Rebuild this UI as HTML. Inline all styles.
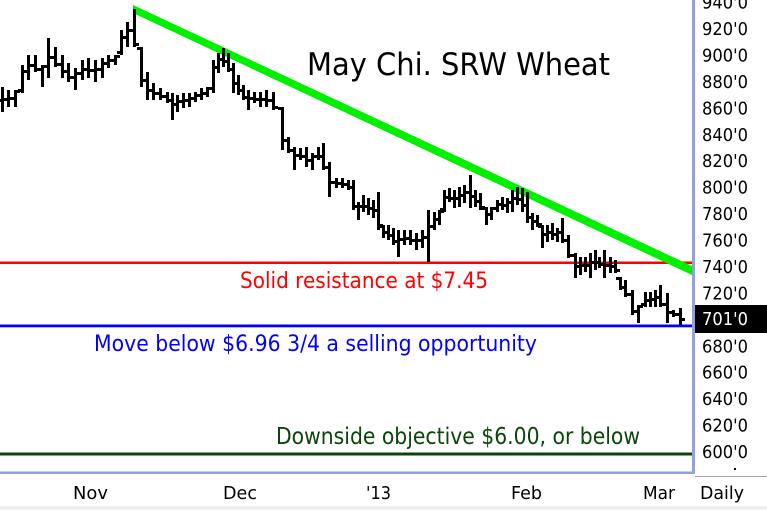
<!DOCTYPE html>
<html><head><meta charset="utf-8"><style>
html,body{margin:0;padding:0;background:#fff;}
svg{display:block;}
text{font-family:"DejaVu Sans","Liberation Sans",sans-serif;}
</style></head><body>
<svg id="c" width="767" height="510" viewBox="0 0 767 510" xmlns="http://www.w3.org/2000/svg">
<rect x="0" y="0" width="767" height="510" fill="#fff"/>
<rect x="0" y="506" width="767" height="4" fill="#efefef"/>
<!-- horizontal lines -->
<rect x="0" y="261.5" width="692" height="2.5" fill="#ff0000"/>
<rect x="0" y="324.5" width="692" height="2.8" fill="#0000ff"/>
<rect x="0" y="452.5" width="692" height="3" fill="#0b450b"/>
<!-- green trend line -->
<polygon points="133,5 692,266 692,275 133,13" fill="#00f000"/>
<g id="bars" fill="#000"></g>
<!-- axes -->
<rect x="692" y="0" width="3" height="474" fill="#8fa2dd"/>
<rect x="0" y="471.5" width="695" height="2.5" fill="#8fa2dd"/>
<rect x="695" y="476" width="72" height="1" fill="#a8a8a8"/>
<!-- texts -->
<text x="307" y="75" font-size="31" fill="#000" textLength="303" lengthAdjust="spacingAndGlyphs">May Chi. SRW Wheat</text>
<text x="240" y="288" font-size="22" fill="#ff0000" textLength="248" lengthAdjust="spacingAndGlyphs">Solid resistance at $7.45</text>
<text x="94" y="351" font-size="22" fill="#0000ff" textLength="443" lengthAdjust="spacingAndGlyphs">Move below $6.96 3/4 a selling opportunity</text>
<text x="276" y="444" font-size="23" fill="#0b450b" textLength="364" lengthAdjust="spacingAndGlyphs">Downside objective $6.00, or below</text>
<!-- y labels -->
<g font-size="18" fill="#000">
<text x="702" y="8.6" textLength="46" lengthAdjust="spacingAndGlyphs">940'0</text>
<text x="702" y="35" textLength="46" lengthAdjust="spacingAndGlyphs">920'0</text>
<text x="702" y="61.4" textLength="46" lengthAdjust="spacingAndGlyphs">900'0</text>
<text x="702" y="87.9" textLength="46" lengthAdjust="spacingAndGlyphs">880'0</text>
<text x="702" y="114.3" textLength="46" lengthAdjust="spacingAndGlyphs">860'0</text>
<text x="702" y="140.8" textLength="46" lengthAdjust="spacingAndGlyphs">840'0</text>
<text x="702" y="167.2" textLength="46" lengthAdjust="spacingAndGlyphs">820'0</text>
<text x="702" y="193.7" textLength="46" lengthAdjust="spacingAndGlyphs">800'0</text>
<text x="702" y="220.1" textLength="46" lengthAdjust="spacingAndGlyphs">780'0</text>
<text x="702" y="246.5" textLength="46" lengthAdjust="spacingAndGlyphs">760'0</text>
<text x="702" y="273" textLength="46" lengthAdjust="spacingAndGlyphs">740'0</text>
<text x="702" y="299.4" textLength="46" lengthAdjust="spacingAndGlyphs">720'0</text>
<text x="702" y="352.3" textLength="46" lengthAdjust="spacingAndGlyphs">680'0</text>
<text x="702" y="378.7" textLength="46" lengthAdjust="spacingAndGlyphs">660'0</text>
<text x="702" y="405.2" textLength="46" lengthAdjust="spacingAndGlyphs">640'0</text>
<text x="702" y="431.6" textLength="46" lengthAdjust="spacingAndGlyphs">620'0</text>
<text x="702" y="458" textLength="46" lengthAdjust="spacingAndGlyphs">600'0</text>
</g>
<rect x="734" y="468" width="2" height="2" fill="#000"/>
<rect x="695" y="305" width="72" height="28" fill="#000"/>
<text x="702" y="325" font-size="18" fill="#fff" textLength="46" lengthAdjust="spacingAndGlyphs">701'0</text>
<!-- x labels -->
<g font-size="18" fill="#000">
<text x="73" y="499" textLength="35" lengthAdjust="spacingAndGlyphs">Nov</text>
<text x="223" y="499" textLength="34" lengthAdjust="spacingAndGlyphs">Dec</text>
<text x="366" y="499" textLength="25" lengthAdjust="spacingAndGlyphs">'13</text>
<text x="511" y="499" textLength="31" lengthAdjust="spacingAndGlyphs">Feb</text>
<text x="643" y="499" textLength="32" lengthAdjust="spacingAndGlyphs">Mar</text>
<text x="700" y="499" textLength="44" lengthAdjust="spacingAndGlyphs">Daily</text>
</g>
</svg>
<script>
(function(){
var d=[[2,87,112],[8,90,107],[15,90,107],[22,65,93],[28,55,80],[35,55,72],[42,65,87],[48,38,78],[55,47,67],[62,55,78],[68,63,82],[75,68,90],[82,60,80],[88,58,78],[95,60,82],[102,58,78],[108,55,68],[115,55,65],[121,30,55],[127,22,47],[134,9,47],
[141,47,87],[147,72,100],[153,83,100],[160,88,100],[167,92,103],[172,93,120],[177,95,112],[183,93,108],[189,93,107],[195,92,102],[201,88,100],[207,87,97],[213,60,93],[218,53,73],[223,48,67],[228,53,72],[233,63,93],[238,75,95],[243,85,100],[248,90,110],[254,92,103],[260,92,107],[266,90,107],[273,92,110],
[282,107,150],[288,137,153],[294,147,170],[300,148,160],[306,147,167],[312,153,170],[318,147,160],[323,143,170],[329,162,197],[336,178,188],[342,178,188],[348,180,190],[353,180,210],[358,202,220],[363,195,212],[368,198,215],[373,200,218],[378,192,230],[383,225,238],[388,225,240],[393,228,245],[398,230,257],[404,230,245],[410,230,245],[416,233,250],[422,230,248],[428,210,262],[434,212,230],[439,210,225],[444,190,212],[449,188,202],[454,190,208],[459,187,207],[464,185,203],[470,175,208],[475,190,207],[480,193,210],[486,207,225],[491,207,220],
[497,200,212],[502,197,210],[507,198,213],[512,190,212],[517,187,205],[522,188,212],[527,192,223],[532,213,230],[537,215,227],[542,225,248],[547,225,242],[552,223,240],[557,228,242],[562,218,243],[568,235,258],[575,253,278],[580,257,275],[585,257,272],[590,253,278],[595,250,270],[599,257,268],[604,250,278],[610,257,273],[615,260,273],[620,277,290],[625,280,297],[632,290,315],[638,305,323],[645,292,307],[650,292,307],[655,290,307],[660,285,307],[667,293,323],[673,310,317],[680,308,325]];
var g=document.getElementById('bars');var ns='http://www.w3.org/2000/svg';
function r(x,y,w,h){var e=document.createElementNS(ns,'rect');e.setAttribute('x',x);e.setAttribute('y',y);e.setAttribute('width',w);e.setAttribute('height',h);g.appendChild(e);}
function cl(v,a,b){return Math.max(a+1,Math.min(b-3,v));}
var prev=null;
for(var i=0;i<d.length;i++){
 var b=d[i],x=b[0],t=b[1],bt=b[2];
 var mid=(t+bt)/2;
 var o=prev===null?mid:cl(prev,t,bt);
 var nx=i+1<d.length?(d[i+1][1]+d[i+1][2])/2:mid+4;
 var c=cl((nx*0.7+mid*0.3),t,bt);
 r(x-1,t,3,bt-t);
 r(x-4,Math.round(o)-1,3,3);
 r(x+2,Math.round(c)-1,3,3);
 prev=c;
}
})();
</script>
</body></html>
